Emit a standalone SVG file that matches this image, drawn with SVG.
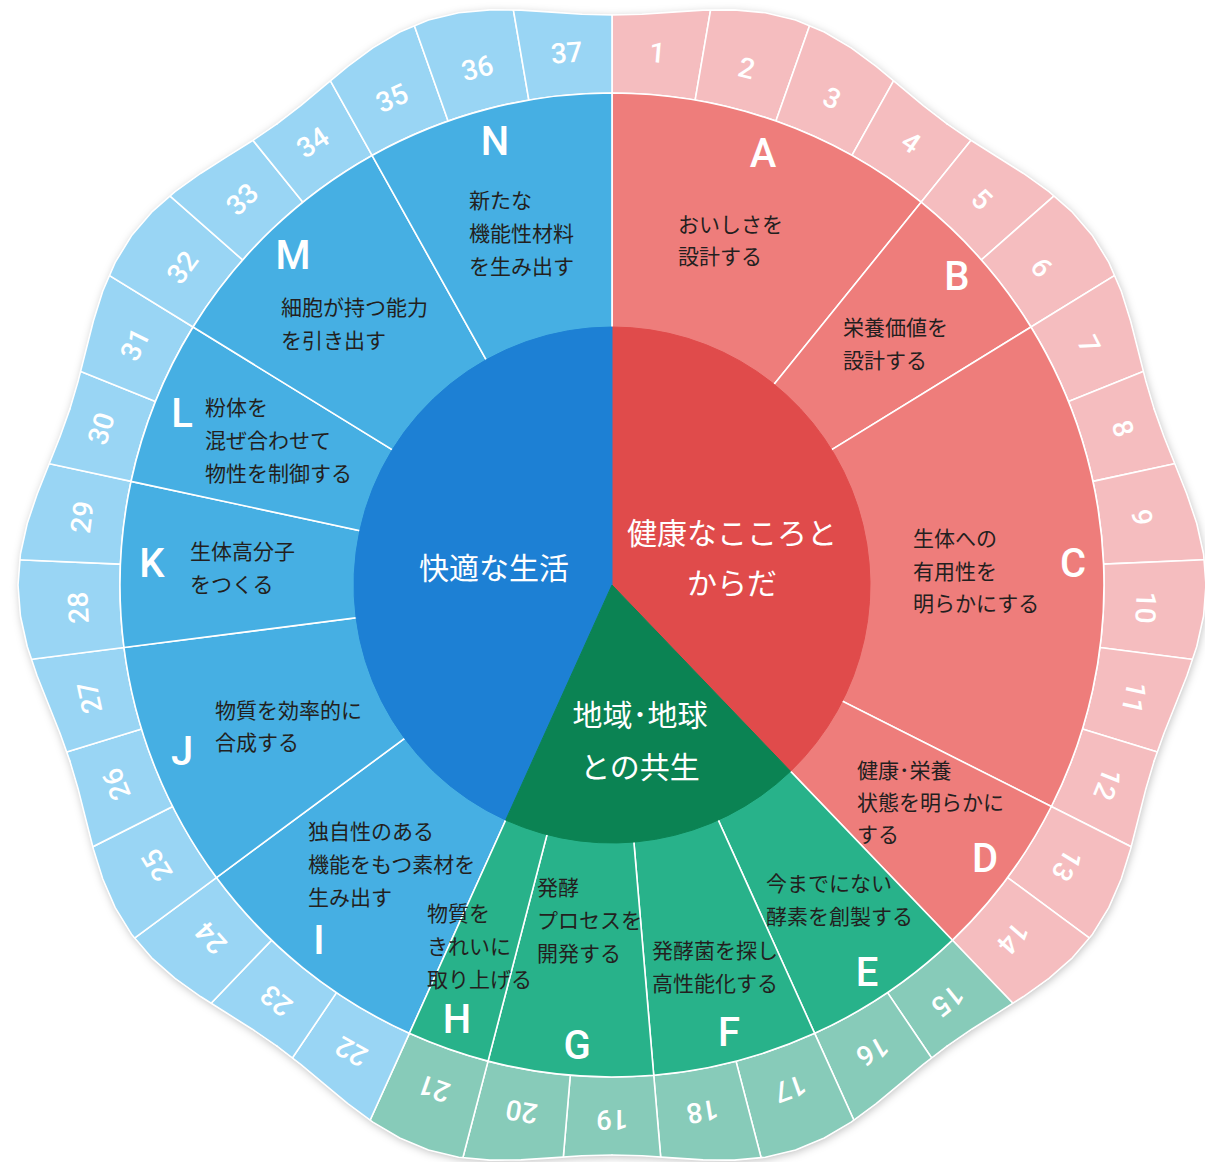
<svg xmlns="http://www.w3.org/2000/svg" xmlns:xlink="http://www.w3.org/1999/xlink" width="1205" height="1162" viewBox="0 0 1205 1162">
<style>
.po{fill:#f5bdbf}.go{fill:#87cbb9}.bo{fill:#99d5f4}
.pm{fill:#ee7d7b}.gm{fill:#28b28a}.bm{fill:#46afe3}
.pi{fill:#e04b4b;stroke:#e04b4b}.gi{fill:#0b8353;stroke:#0b8353}.bi{fill:#1d80d4;stroke:#1d80d4}
.cellw,.wed{stroke:#fff;stroke-width:1.6;stroke-linejoin:round}
.num{font-family:Roboto,"Liberation Sans",sans-serif;font-size:28px;font-weight:500;fill:#fff;text-anchor:middle;dominant-baseline:central}
.ltr{font-family:Roboto,"Liberation Sans",sans-serif;font-size:40px;font-weight:500;fill:#fff;text-anchor:middle}
.desc{font-family:"Noto Sans CJK JP","Noto Sans",sans-serif;font-size:21px;fill:#231f20}
.ttl{font-family:"Noto Sans CJK JP","Noto Sans",sans-serif;font-size:30px;fill:#fff;text-anchor:middle}
.edge{fill:none;stroke:#fff;stroke-width:1.6;stroke-linecap:round;stroke-linejoin:round}
</style>
<defs>
<path id="lobe" d="M0,0 L-204.85,-533.64 L-176.14,-542.10 L-147.94,-552.12 L-119.76,-563.41 L-91.04,-574.83 L-61.46,-584.78 L-31.00,-591.58 L0,-594 L31.00,-591.58 L61.46,-584.78 L91.04,-574.83 L119.76,-563.41 L147.94,-552.12 L176.14,-542.10 L204.85,-533.64 Z"/>
<path id="lobeEdge" d="M-176.14,-542.10 L-147.94,-552.12 L-119.76,-563.41 L-91.04,-574.83 L-61.46,-584.78 L-31.00,-591.58 L0,-594 L31.00,-591.58 L61.46,-584.78 L91.04,-574.83 L119.76,-563.41 L147.94,-552.12 L176.14,-542.10"/>
<path id="cell" d="M-41.72,-490.23 L-52.58,-617.77 A620,620 0 0,1 52.58,-617.77 L41.72,-490.23 A492,492 0 0,0 -41.72,-490.23 Z"/>
<path id="w1" d="M0,0 L0,-492 A492,492 0 0,1 83.15,-484.92 Z"/>
<path id="w2" d="M0,0 L0,-492 A492,492 0 0,1 163.90,-463.90 Z"/>
<path id="w3" d="M0,0 L0,-492 A492,492 0 0,1 239.94,-429.54 Z"/>
<path id="w4" d="M0,0 L0,-492 A492,492 0 0,1 309.08,-382.80 Z"/>
<path id="w6" d="M0,0 L0,-492 A492,492 0 0,1 418.95,-257.96 Z"/>
<clipPath id="blob">
<use href="#lobe" transform="translate(612 585) rotate(18)"/>
<use href="#lobe" transform="translate(612 585) rotate(54)"/>
<use href="#lobe" transform="translate(612 585) rotate(90)"/>
<use href="#lobe" transform="translate(612 585) rotate(126)"/>
<use href="#lobe" transform="translate(612 585) rotate(162)"/>
<use href="#lobe" transform="translate(612 585) rotate(198)"/>
<use href="#lobe" transform="translate(612 585) rotate(234)"/>
<use href="#lobe" transform="translate(612 585) rotate(270)"/>
<use href="#lobe" transform="translate(612 585) rotate(306)"/>
<use href="#lobe" transform="translate(612 585) rotate(342)"/>
</clipPath>
<filter id="sh" x="-10%" y="-10%" width="120%" height="120%">
<feDropShadow dx="1" dy="2" stdDeviation="4" flood-color="#000" flood-opacity="0.25"/>
</filter>
</defs>

<g id="shadow" filter="url(#sh)" fill="#fff" transform="translate(612 585)">
<use href="#lobe" transform="rotate(18)"/><use href="#lobe" transform="rotate(54)"/><use href="#lobe" transform="rotate(90)"/><use href="#lobe" transform="rotate(126)"/><use href="#lobe" transform="rotate(162)"/><use href="#lobe" transform="rotate(198)"/><use href="#lobe" transform="rotate(234)"/><use href="#lobe" transform="rotate(270)"/><use href="#lobe" transform="rotate(306)"/><use href="#lobe" transform="rotate(342)"/>
</g>

<g id="outer-ring" clip-path="url(#blob)">
<g id="cell-1" transform="translate(612 585) rotate(4.8649)"><use href="#cell" class="po cellw"/><text class="num" y="-534">1</text></g>
<g id="cell-2" transform="translate(612 585) rotate(14.5946)"><use href="#cell" class="po cellw"/><text class="num" y="-534">2</text></g>
<g id="cell-3" transform="translate(612 585) rotate(24.3243)"><use href="#cell" class="po cellw"/><text class="num" y="-534">3</text></g>
<g id="cell-4" transform="translate(612 585) rotate(34.0541)"><use href="#cell" class="po cellw"/><text class="num" y="-534">4</text></g>
<g id="cell-5" transform="translate(612 585) rotate(43.7838)"><use href="#cell" class="po cellw"/><text class="num" y="-534">5</text></g>
<g id="cell-6" transform="translate(612 585) rotate(53.5135)"><use href="#cell" class="po cellw"/><text class="num" y="-534">6</text></g>
<g id="cell-7" transform="translate(612 585) rotate(63.2432)"><use href="#cell" class="po cellw"/><text class="num" y="-534">7</text></g>
<g id="cell-8" transform="translate(612 585) rotate(72.9730)"><use href="#cell" class="po cellw"/><text class="num" y="-534">8</text></g>
<g id="cell-9" transform="translate(612 585) rotate(82.7027)"><use href="#cell" class="po cellw"/><text class="num" y="-534">9</text></g>
<g id="cell-10" transform="translate(612 585) rotate(92.4324)"><use href="#cell" class="po cellw"/><text class="num" y="-534">10</text></g>
<g id="cell-11" transform="translate(612 585) rotate(102.1622)"><use href="#cell" class="po cellw"/><text class="num" y="-534">11</text></g>
<g id="cell-12" transform="translate(612 585) rotate(111.8919)"><use href="#cell" class="po cellw"/><text class="num" y="-534">12</text></g>
<g id="cell-13" transform="translate(612 585) rotate(121.6216)"><use href="#cell" class="po cellw"/><text class="num" y="-534">13</text></g>
<g id="cell-14" transform="translate(612 585) rotate(131.3514)"><use href="#cell" class="po cellw"/><text class="num" y="-534">14</text></g>
<g id="cell-15" transform="translate(612 585) rotate(141.0811)"><use href="#cell" class="go cellw"/><text class="num" y="-534">15</text></g>
<g id="cell-16" transform="translate(612 585) rotate(150.8108)"><use href="#cell" class="go cellw"/><text class="num" y="-534">16</text></g>
<g id="cell-17" transform="translate(612 585) rotate(160.5405)"><use href="#cell" class="go cellw"/><text class="num" y="-534">17</text></g>
<g id="cell-18" transform="translate(612 585) rotate(170.2703)"><use href="#cell" class="go cellw"/><text class="num" y="-534">18</text></g>
<g id="cell-19" transform="translate(612 585) rotate(180)"><use href="#cell" class="go cellw"/><text class="num" y="-534">19</text></g>
<g id="cell-20" transform="translate(612 585) rotate(189.7297)"><use href="#cell" class="go cellw"/><text class="num" y="-534">20</text></g>
<g id="cell-21" transform="translate(612 585) rotate(199.4595)"><use href="#cell" class="go cellw"/><text class="num" y="-534">21</text></g>
<g id="cell-22" transform="translate(612 585) rotate(209.1892)"><use href="#cell" class="bo cellw"/><text class="num" y="-534">22</text></g>
<g id="cell-23" transform="translate(612 585) rotate(218.9189)"><use href="#cell" class="bo cellw"/><text class="num" y="-534">23</text></g>
<g id="cell-24" transform="translate(612 585) rotate(228.6486)"><use href="#cell" class="bo cellw"/><text class="num" y="-534">24</text></g>
<g id="cell-25" transform="translate(612 585) rotate(238.3784)"><use href="#cell" class="bo cellw"/><text class="num" y="-534">25</text></g>
<g id="cell-26" transform="translate(612 585) rotate(248.1081)"><use href="#cell" class="bo cellw"/><text class="num" y="-534">26</text></g>
<g id="cell-27" transform="translate(612 585) rotate(257.8378)"><use href="#cell" class="bo cellw"/><text class="num" y="-534">27</text></g>
<g id="cell-28" transform="translate(612 585) rotate(267.5676)"><use href="#cell" class="bo cellw"/><text class="num" y="-534">28</text></g>
<g id="cell-29" transform="translate(612 585) rotate(277.2973)"><use href="#cell" class="bo cellw"/><text class="num" y="-534">29</text></g>
<g id="cell-30" transform="translate(612 585) rotate(287.0270)"><use href="#cell" class="bo cellw"/><text class="num" y="-534">30</text></g>
<g id="cell-31" transform="translate(612 585) rotate(296.7568)"><use href="#cell" class="bo cellw"/><text class="num" y="-534">31</text></g>
<g id="cell-32" transform="translate(612 585) rotate(306.4865)"><use href="#cell" class="bo cellw"/><text class="num" y="-534">32</text></g>
<g id="cell-33" transform="translate(612 585) rotate(316.2162)"><use href="#cell" class="bo cellw"/><text class="num" y="-534">33</text></g>
<g id="cell-34" transform="translate(612 585) rotate(325.9459)"><use href="#cell" class="bo cellw"/><text class="num" y="-534">34</text></g>
<g id="cell-35" transform="translate(612 585) rotate(335.6757)"><use href="#cell" class="bo cellw"/><text class="num" y="-534">35</text></g>
<g id="cell-36" transform="translate(612 585) rotate(345.4054)"><use href="#cell" class="bo cellw"/><text class="num" y="-534">36</text></g>
<g id="cell-37" transform="translate(612 585) rotate(355.1351)"><use href="#cell" class="bo cellw"/><text class="num" y="-534">37</text></g>
</g>

<g id="outer-edge" class="edge" transform="translate(612 585)">
<use href="#lobeEdge" transform="rotate(18)"/><use href="#lobeEdge" transform="rotate(54)"/><use href="#lobeEdge" transform="rotate(90)"/><use href="#lobeEdge" transform="rotate(126)"/><use href="#lobeEdge" transform="rotate(162)"/><use href="#lobeEdge" transform="rotate(198)"/><use href="#lobeEdge" transform="rotate(234)"/><use href="#lobeEdge" transform="rotate(270)"/><use href="#lobeEdge" transform="rotate(306)"/><use href="#lobeEdge" transform="rotate(342)"/>
</g>

<g id="connectors"></g>

<g id="node-A"><use href="#w4" class="pm wed" transform="translate(612 585)"/><text class="ltr" x="763" y="167">A</text><text class="desc"><tspan x="678" y="232">おいしさを</tspan><tspan x="678" y="264">設計する</tspan></text></g>
<g id="node-B"><use href="#w2" class="pm wed" transform="translate(612 585) rotate(38.9189)"/><text class="ltr" x="957" y="290">B</text><text class="desc"><tspan x="843" y="335">栄養価値を</tspan><tspan x="843" y="368">設計する</tspan></text></g>
<g id="node-C"><use href="#w6" class="pm wed" transform="translate(612 585) rotate(58.3784)"/><text class="ltr" x="1073" y="577">C</text><text class="desc"><tspan x="913" y="546">生体への</tspan><tspan x="913" y="579">有用性を</tspan><tspan x="913" y="611">明らかにする</tspan></text></g>
<g id="node-D"><use href="#w2" class="pm wed" transform="translate(612 585) rotate(116.7568)"/><text class="ltr" x="985" y="872">D</text><text class="desc"><tspan x="857" y="778">健康･栄養</tspan><tspan x="857" y="810">状態を明らかに</tspan><tspan x="857" y="842">する</tspan></text></g>
<g id="node-E"><use href="#w2" class="gm wed" transform="translate(612 585) rotate(136.2162)"/><text class="ltr" x="867" y="986">E</text><text class="desc"><tspan x="766" y="891">今までにない</tspan><tspan x="766" y="924">酵素を創製する</tspan></text></g>
<g id="node-F"><use href="#w2" class="gm wed" transform="translate(612 585) rotate(155.6757)"/><text class="ltr" x="729" y="1046">F</text><text class="desc"><tspan x="652" y="958">発酵菌を探し</tspan><tspan x="652" y="991">高性能化する</tspan></text></g>
<g id="node-G"><use href="#w2" class="gm wed" transform="translate(612 585) rotate(175.1351)"/><text class="ltr" x="577" y="1059">G</text><text class="desc"><tspan x="537" y="895">発酵</tspan><tspan x="537" y="928">プロセスを</tspan><tspan x="537" y="961">開発する</tspan></text></g>
<g id="node-I"><use href="#w3" class="bm wed" transform="translate(612 585) rotate(204.3243)"/><text class="ltr" x="319" y="954">I</text><text class="desc"><tspan x="308" y="839">独自性のある</tspan><tspan x="308" y="872">機能をもつ素材を</tspan><tspan x="308" y="905">生み出す</tspan></text></g>
<g id="node-J"><use href="#w3" class="bm wed" transform="translate(612 585) rotate(233.5135)"/><text class="ltr" x="182" y="765">J</text><text class="desc"><tspan x="215" y="718">物質を効率的に</tspan><tspan x="215" y="750">合成する</tspan></text></g>
<g id="node-K"><use href="#w2" class="bm wed" transform="translate(612 585) rotate(262.7027)"/><text class="ltr" x="152" y="577">K</text><text class="desc"><tspan x="190" y="559">生体高分子</tspan><tspan x="190" y="592">をつくる</tspan></text></g>
<g id="node-L"><use href="#w2" class="bm wed" transform="translate(612 585) rotate(282.1622)"/><text class="ltr" x="182" y="427">L</text><text class="desc"><tspan x="205" y="415">粉体を</tspan><tspan x="205" y="448">混ぜ合わせて</tspan><tspan x="205" y="481">物性を制御する</tspan></text></g>
<g id="node-M"><use href="#w3" class="bm wed" transform="translate(612 585) rotate(301.6216)"/><text class="ltr" x="293" y="269">M</text><text class="desc"><tspan x="281" y="315">細胞が持つ能力</tspan><tspan x="281" y="348">を引き出す</tspan></text></g>
<g id="node-N"><use href="#w3" class="bm wed" transform="translate(612 585) rotate(330.8108)"/><text class="ltr" x="495" y="155">N</text><text class="desc"><tspan x="469" y="208">新たな</tspan><tspan x="469" y="241">機能性材料</tspan><tspan x="469" y="274">を生み出す</tspan></text></g>
<g id="node-H"><use href="#w1" class="gm wed" transform="translate(612 585) rotate(194.5946)"/><text class="ltr" x="457" y="1033">H</text><text class="desc"><tspan x="427" y="921">物質を</tspan><tspan x="427" y="954">きれいに</tspan><tspan x="427" y="987">取り上げる</tspan></text></g>

<g id="core-health"><path class="pi" stroke-width="1" d="M612,585 L612,327 A258,258 0 0,1 790.52,771.27 Z"/><text class="ttl"><tspan x="732" y="544">健康なこころと</tspan><tspan x="732" y="594">からだ</tspan></text></g>
<g id="core-life"><path class="bi" stroke-width="1" d="M612,585 L505.73,820.10 A258,258 0 0,1 612,327 Z"/><text class="ttl" x="494" y="579">快適な生活</text></g>
<g id="core-earth"><path class="gi" stroke-width="1" d="M612,585 L790.52,771.27 A258,258 0 0,1 505.73,820.10 Z"/><text class="ttl"><tspan x="640" y="726">地域･地球</tspan><tspan x="640" y="778">との共生</tspan></text></g>
</svg>
